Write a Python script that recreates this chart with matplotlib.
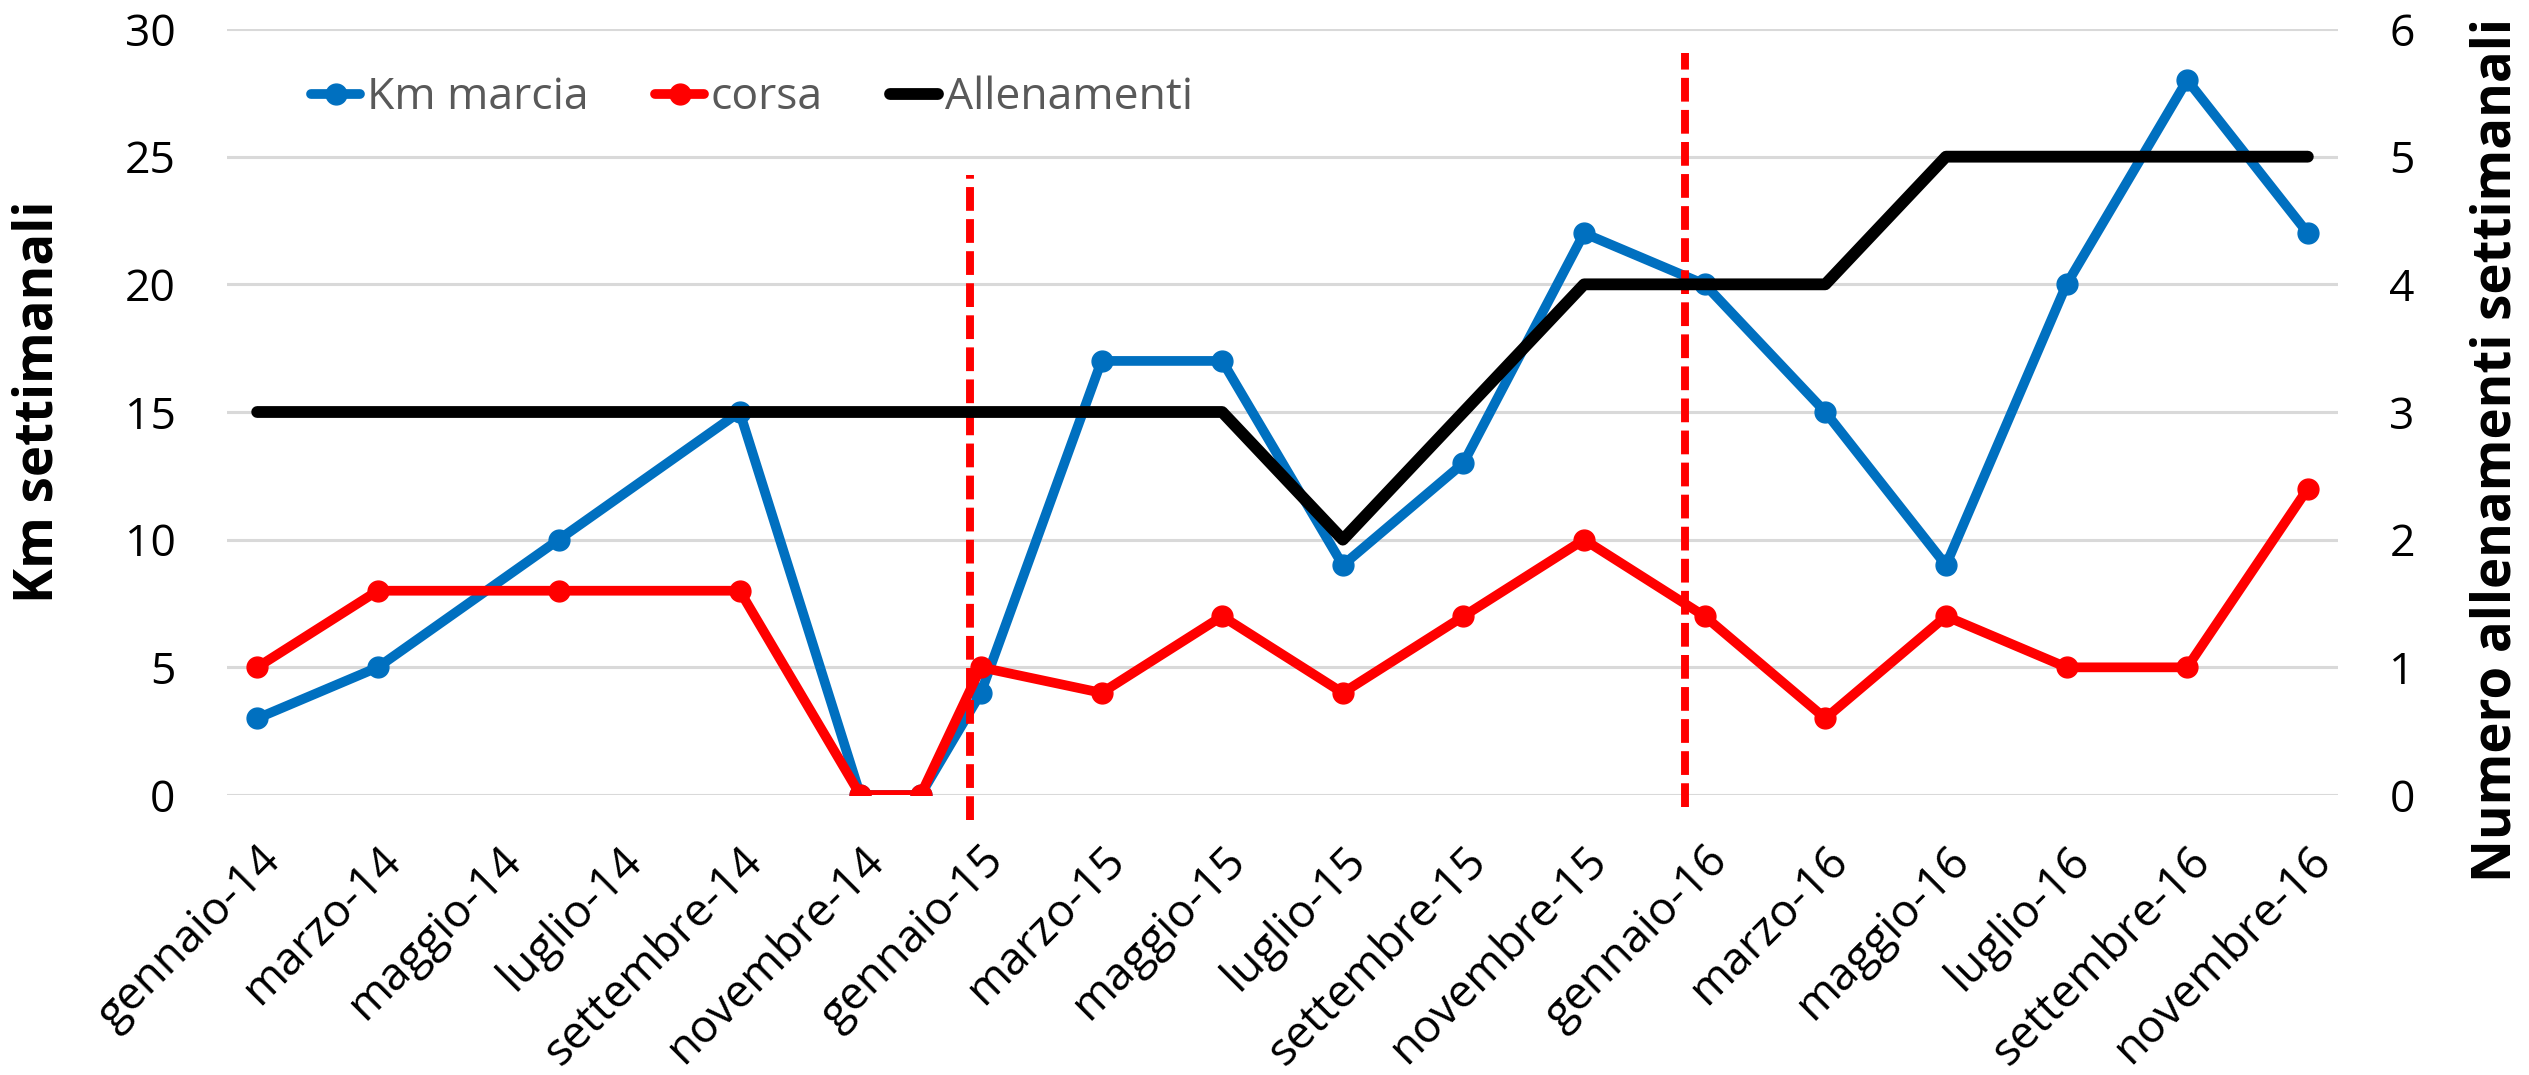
import numpy as np
import matplotlib.pyplot as plt
from matplotlib.lines import Line2D
from matplotlib.transforms import ScaledTranslation

# dates of the measurements (year-month)
dates = ["2014-01", "2014-03", "2014-06", "2014-09", "2014-11", "2014-12",
         "2015-01", "2015-03", "2015-05", "2015-07", "2015-09", "2015-11",
         "2016-01", "2016-03", "2016-05", "2016-07", "2016-09", "2016-11"]
km_marcia = [3, 5, 10, 15, 0, 0, 4, 17, 17, 9, 13, 22, 20, 15, 9, 20, 28, 22]
corsa = [5, 8, 8, 8, 0, 0, 5, 4, 7, 4, 7, 10, 7, 3, 7, 5, 5, 12]
allenamenti = [3, 3, 3, 3, 3, 3, 3, 3, 3, 2, 3, 4, 4, 4, 5, 5, 5, 5]

tick_labels = ["gennaio-14", "marzo-14", "maggio-14", "luglio-14", "settembre-14", "novembre-14",
               "gennaio-15", "marzo-15", "maggio-15", "luglio-15", "settembre-15", "novembre-15",
               "gennaio-16", "marzo-16", "maggio-16", "luglio-16", "settembre-16", "novembre-16"]

# red dashed separators (month index, y from, y to on left axis)
sep_x = [11.82, 23.67]
sep_y0 = [-0.98, -0.47]
sep_y1 = [24.3, 29.05]


def month_index(s):
    y, m = s.split("-")
    return (int(y) - 2014) * 12 + int(m) - 1


x = np.array([month_index(d) for d in dates])

blue = "#0070C0"
red = "#FF0000"
font = "Open Sans"

fig = plt.figure(figsize=(25.29, 10.75), dpi=100)
ax = fig.add_axes([227 / 2529, 1 - 795 / 1075, (2338 - 227) / 2529, (795 - 29) / 1075])
ax2 = ax.twinx()

ax.plot(x, km_marcia, color=blue, lw=7, marker="o", ms=15, solid_capstyle="round",
        solid_joinstyle="round", zorder=3)
ax.plot(x, corsa, color=red, lw=7, marker="o", ms=15, solid_capstyle="round",
        solid_joinstyle="round", zorder=3)
ax2.plot(x, allenamenti, color="black", lw=8.5, solid_capstyle="round",
         solid_joinstyle="round", zorder=3)

for sx, a, b in zip(sep_x, sep_y0, sep_y1):
    ax.plot([sx, sx], [a, b], color=red, lw=5.7, ls=(0, (3.0, 1.05)), clip_on=False, zorder=4)

ax.set_xlim(-0.5, 34.5)
ax.set_ylim(0, 30)
ax2.set_ylim(0, 6)
ax.set_yticks(np.arange(0, 31, 5))
ax2.set_yticks(np.arange(0, 7, 1))
ax.set_xticks(np.arange(0, 35, 2))
ax.set_xticklabels(tick_labels, rotation=45, ha="right", va="top",
                   rotation_mode="anchor", fontsize=33, family=font)
shift = ScaledTranslation(-8 / 100, 0, fig.dpi_scale_trans)
for lab in ax.get_xticklabels():
    lab.set_transform(lab.get_transform() + shift)
ax.grid(axis="y", color="#D9D9D9", lw=2.2)
ax.set_axisbelow(True)

for a in (ax, ax2):
    for s in a.spines.values():
        s.set_visible(False)
ax.tick_params(axis="y", length=0, labelsize=32, pad=37)
ax.tick_params(axis="x", length=0, pad=31)
ax2.tick_params(axis="y", length=0, labelsize=32, pad=37)
for lab in ax.get_yticklabels() + ax2.get_yticklabels():
    lab.set_family(font)

ax.set_ylabel("Km settimanali", fontsize=38, fontweight="bold", family=font, va="center")
ax.yaxis.set_label_coords(-0.0895, 0.513)
ax2.set_ylabel("Numero allenamenti settimanali", fontsize=38, fontweight="bold",
               family=font, va="center")
ax2.yaxis.set_label_coords(1.075, 0.45)

handles = [
    Line2D([], [], color=blue, lw=7, marker="o", ms=15, solid_capstyle="round"),
    Line2D([], [], color=red, lw=7, marker="o", ms=15, solid_capstyle="round"),
    Line2D([], [], color="black", lw=8.5, solid_capstyle="round"),
]
leg = ax.legend(handles, ["Km marcia", "corsa", "Allenamenti"], ncol=3, frameon=False,
                loc="center left", bbox_to_anchor=(0.021, 0.91), handlelength=1.1,
                handletextpad=0.15, columnspacing=1.5,
                prop={"family": font, "size": 32})
for t in leg.get_texts():
    t.set_color("#595959")

fig.savefig("out.png", dpi=100)
